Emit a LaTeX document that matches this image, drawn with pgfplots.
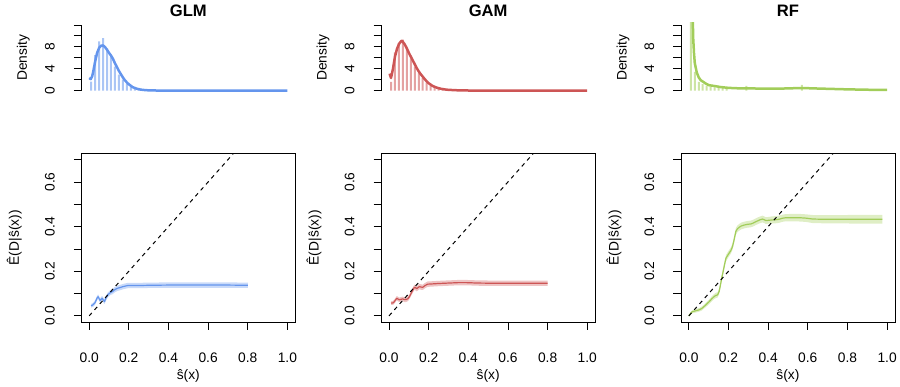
\documentclass[border=0pt]{standalone}
\usepackage{fontspec}
\setmainfont{Liberation Sans}
\usepackage{pgfplots}
\usepackage{pgfplotstable}
\pgfplotsset{compat=1.18}
\usepgfplotslibrary{fillbetween}

\definecolor{cglm}{RGB}{100,149,237}
\definecolor{cgam}{RGB}{205,85,85}
\definecolor{crf}{RGB}{162,205,90}
\newcommand{\lbl}{\fontsize{13.8}{16}\selectfont}

% ---------- density curves ----------
\pgfplotstableread{
x d
0.000 2.3
0.008 2.1
0.015 2.6
0.020 3.4
0.030 5.3
0.040 6.9
0.050 7.8
0.060 8.2
0.070 8.25
0.080 7.95
0.090 7.45
0.100 6.9
0.110 6.4
0.120 5.8
0.130 5.0
0.140 4.3
0.150 3.6
0.160 3.0
0.170 2.4
0.180 1.9
0.190 1.5
0.200 1.15
0.220 0.62
0.240 0.35
0.260 0.18
0.280 0.10
0.300 0.05
0.350 0.01
0.400 0.0
1.000 0.0
}\glmdens
\pgfplotstableread{
x d
0.003 3.1
0.010 2.3
0.020 4.0
0.030 6.2
0.040 7.6
0.050 8.5
0.060 9.0
0.065 9.1
0.070 8.9
0.080 8.4
0.090 7.7
0.100 6.9
0.110 6.2
0.120 5.5
0.130 4.8
0.140 4.1
0.150 3.5
0.160 3.0
0.170 2.55
0.180 2.1
0.190 1.7
0.200 1.35
0.220 0.85
0.240 0.55
0.260 0.35
0.280 0.22
0.300 0.14
0.350 0.05
0.400 0.02
0.500 0.0
1.000 0.0
}\gamdens
\pgfplotstableread{
x d
0.012 40
0.018 16
0.022 9.5
0.026 6.8
0.030 5.0
0.040 3.3
0.050 2.4
0.060 1.9
0.085 1.3
0.100 1.0
0.136 0.8
0.160 0.65
0.200 0.5
0.250 0.42
0.300 0.4
0.350 0.38
0.400 0.36
0.450 0.36
0.500 0.4
0.550 0.46
0.600 0.44
0.650 0.38
0.700 0.33
0.800 0.23
0.900 0.16
1.000 0.12
}\rfdens
% ---------- histogram lines ----------
\pgfplotstableread{
x h
0.01 1.65
0.03 6.5
0.05 9.0
0.07 9.6
0.09 7.7
0.11 6.2
0.13 4.4
0.15 2.9
0.17 2.0
0.19 1.2
0.21 0.7
0.23 0.4
0.25 0.25
0.27 0.12
0.29 0.06
}\glmhist
\pgfplotstableread{
x h
0.01 1.6
0.03 7.0
0.05 8.7
0.07 9.3
0.09 7.7
0.11 5.9
0.13 4.4
0.15 3.2
0.17 2.3
0.19 1.5
0.21 1.0
0.23 0.7
0.25 0.4
0.27 0.25
0.29 0.15
0.31 0.08
}\gamhist
\pgfplotstableread{
x h
0.01 40
0.03 3.4
0.05 1.6
0.07 1.2
0.09 0.9
0.11 0.7
0.13 0.6
0.15 0.5
0.17 0.45
0.19 0.4
0.29 0.85
0.57 1.05
}\rfhist
% ---------- reliability curves (x, y, half band width) ----------
\pgfplotstableread{
x y w
0.010 0.045 0.008
0.020 0.050 0.009
0.030 0.060 0.010
0.040 0.080 0.010
0.045 0.086 0.010
0.055 0.069 0.010
0.065 0.079 0.010
0.077 0.064 0.011
0.085 0.080 0.011
0.094 0.094 0.011
0.105 0.103 0.011
0.119 0.110 0.012
0.130 0.118 0.012
0.144 0.124 0.012
0.160 0.128 0.012
0.170 0.131 0.012
0.195 0.136 0.012
0.250 0.136 0.012
0.300 0.137 0.012
0.400 0.138 0.012
0.500 0.138 0.012
0.600 0.138 0.012
0.700 0.138 0.012
0.800 0.137 0.012
}\glmrel
\pgfplotstableread{
x y w
0.010 0.057 0.008
0.020 0.058 0.009
0.027 0.064 0.009
0.039 0.079 0.010
0.046 0.075 0.010
0.052 0.072 0.010
0.060 0.074 0.010
0.069 0.076 0.010
0.078 0.073 0.011
0.086 0.073 0.011
0.095 0.077 0.011
0.103 0.086 0.011
0.110 0.098 0.011
0.116 0.109 0.012
0.128 0.128 0.012
0.134 0.126 0.012
0.140 0.122 0.012
0.147 0.127 0.012
0.153 0.131 0.012
0.162 0.129 0.012
0.170 0.128 0.012
0.182 0.136 0.012
0.195 0.142 0.012
0.250 0.145 0.012
0.300 0.147 0.012
0.350 0.149 0.012
0.388 0.149 0.012
0.450 0.147 0.012
0.540 0.146 0.012
0.650 0.146 0.012
0.800 0.146 0.012
}\gamrel
\pgfplotstableread{
x y w
0.000 0.000 0.004
0.010 0.012 0.006
0.018 0.019 0.007
0.035 0.023 0.008
0.052 0.027 0.008
0.065 0.033 0.009
0.077 0.042 0.009
0.090 0.053 0.010
0.103 0.064 0.010
0.115 0.076 0.011
0.128 0.087 0.011
0.137 0.092 0.012
0.145 0.094 0.012
0.153 0.110 0.012
0.161 0.146 0.013
0.167 0.175 0.013
0.173 0.199 0.013
0.180 0.230 0.013
0.187 0.258 0.014
0.195 0.270 0.014
0.203 0.281 0.014
0.212 0.293 0.014
0.220 0.310 0.014
0.228 0.340 0.015
0.237 0.378 0.015
0.245 0.390 0.015
0.254 0.397 0.015
0.265 0.403 0.015
0.279 0.407 0.015
0.295 0.410 0.015
0.313 0.412 0.015
0.325 0.416 0.015
0.338 0.422 0.015
0.355 0.429 0.015
0.371 0.434 0.015
0.380 0.431 0.015
0.388 0.427 0.015
0.400 0.428 0.015
0.422 0.430 0.016
0.440 0.431 0.016
0.455 0.433 0.016
0.470 0.437 0.016
0.489 0.440 0.016
0.520 0.440 0.017
0.556 0.440 0.017
0.590 0.438 0.017
0.624 0.434 0.018
0.670 0.433 0.018
0.724 0.433 0.019
0.800 0.433 0.019
0.900 0.433 0.020
0.976 0.433 0.020
}\rfrel

\pgfplotsset{
  common/.style={scale only axis, width=214.2pt, xmin=-0.04, xmax=1.04,
    anchor=south west,
    /pgf/number format/assume math mode=true,
    tick align=outside, major tick length=7.5pt,
    every tick/.style={black, line width=0.8pt},
    tick label style={font=\lbl}},
  toppanel/.style={common, height=71pt, ymin=-0.48, ymax=12.48,
    hide x axis, axis y line*=left, y axis line style={draw=none},
    ytick={0,2,4,6,8,10,12}, yticklabels={0,,4,,8,,},
    yticklabel style={xshift=-24pt, rotate=90, anchor=center},
    ylabel={Density},
    every axis y label/.style={at={(axis description cs:-0.2708,0.5)}, rotate=90, anchor=center, font=\lbl},
    title style={at={(axis description cs:0.5,1)}, anchor=base, font=\bfseries\fontsize{16.6}{20}\selectfont}},
  botpanel/.style={common, height=168.8pt, ymin=-0.028, ymax=0.728,
    axis line style={line width=0.8pt},
    xtick pos=left, ytick pos=left,
    xtick={0,0.2,0.4,0.6,0.8,1}, xticklabels={0.0,0.2,0.4,0.6,0.8,1.0},
    ytick={0,0.1,0.2,0.3,0.4,0.5,0.6,0.7}, yticklabels={0.0,,0.2,,0.4,,0.6,},
    xticklabel style={yshift=-27.7pt, anchor=center},
    yticklabel style={xshift=-24pt, rotate=90, anchor=center},
    xlabel={ŝ(x)}, ylabel={Ê(D|ŝ(x))},
    every axis x label/.style={at={(axis description cs:0.5,0)}, anchor=center, yshift=-54pt, font=\lbl},
    every axis y label/.style={at={(axis description cs:-0.3128,0.5)}, rotate=90, anchor=center, font=\lbl}},
  hist/.style={ybar, bar width=2pt, draw=none, fill=#1!55!white},
  dens/.style={draw=#1, line width=2.5pt, line join=round},
  band/.style={fill=#1, fill opacity=0.35, draw=none},
  rel/.style={draw=#1, line width=1.2pt, line join=round},
  diag/.style={black, line width=1pt, dash pattern=on 4pt off 4pt},
  yaxline/.style={black, line width=0.8pt},
}

\begin{document}
\begin{tikzpicture}
\path (0,0) rectangle (900pt,387pt);

% ===== GLM =====
\begin{axis}[toppanel, at={(81.3pt,293.7pt)}, title={GLM}, clip mode=individual]
\addplot[hist=cglm] table[x=x,y=h]{\glmhist};
\addplot[dens=cglm] table[x=x,y=d]{\glmdens};
\addplot[yaxline, clip=false] coordinates {(-0.04,0) (-0.04,12)};
\end{axis}
\begin{axis}[botpanel, at={(81.3pt,64.7pt)}]
\addplot[name path=up, draw=none] table[x=x, y expr=\thisrow{y}+\thisrow{w}]{\glmrel};
\addplot[name path=lo, draw=none] table[x=x, y expr=\thisrow{y}-\thisrow{w}]{\glmrel};
\addplot[band=cglm] fill between[of=up and lo];
\addplot[rel=cglm] table[x=x,y=y]{\glmrel};
\addplot[diag] coordinates {(0,0) (1,1)};
\end{axis}

% ===== GAM =====
\begin{axis}[toppanel, at={(381.3pt,293.7pt)}, title={GAM}, clip mode=individual]
\addplot[hist=cgam] table[x=x,y=h]{\gamhist};
\addplot[dens=cgam] table[x=x,y=d]{\gamdens};
\addplot[yaxline, clip=false] coordinates {(-0.04,0) (-0.04,12)};
\end{axis}
\begin{axis}[botpanel, at={(381.3pt,64.7pt)}]
\addplot[name path=up, draw=none] table[x=x, y expr=\thisrow{y}+\thisrow{w}]{\gamrel};
\addplot[name path=lo, draw=none] table[x=x, y expr=\thisrow{y}-\thisrow{w}]{\gamrel};
\addplot[band=cgam] fill between[of=up and lo];
\addplot[rel=cgam] table[x=x,y=y]{\gamrel};
\addplot[diag] coordinates {(0,0) (1,1)};
\end{axis}

% ===== RF =====
\begin{axis}[toppanel, at={(681.3pt,293.7pt)}, title={RF}, clip mode=individual]
\addplot[hist=crf] table[x=x,y=h]{\rfhist};
\addplot[dens=crf] table[x=x,y=d]{\rfdens};
\addplot[yaxline, clip=false] coordinates {(-0.04,0) (-0.04,12)};
\end{axis}
\begin{axis}[botpanel, at={(681.3pt,64.7pt)}]
\addplot[name path=up, draw=none] table[x=x, y expr=\thisrow{y}+\thisrow{w}]{\rfrel};
\addplot[name path=lo, draw=none] table[x=x, y expr=\thisrow{y}-\thisrow{w}]{\rfrel};
\addplot[band=crf] fill between[of=up and lo];
\addplot[rel=crf] table[x=x,y=y]{\rfrel};
\addplot[diag] coordinates {(0,0) (1,1)};
\end{axis}
\end{tikzpicture}
\end{document}
